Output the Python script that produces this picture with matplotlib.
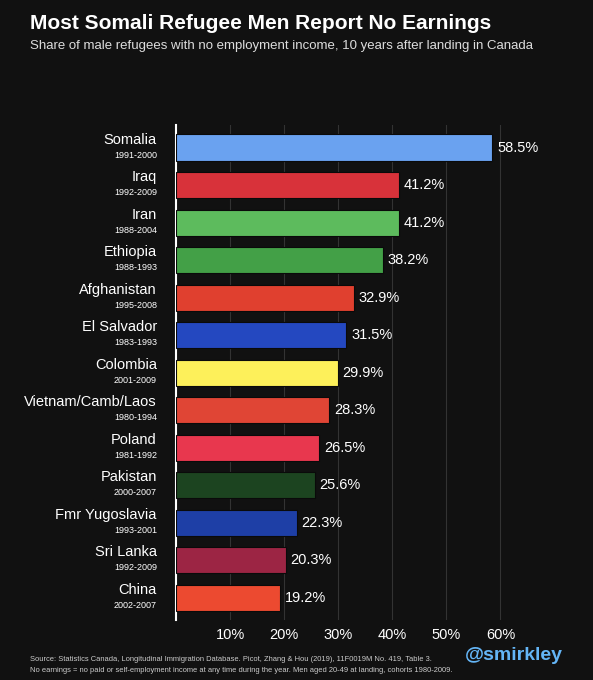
import matplotlib.pyplot as plt

plt.rcParams['font.family'] = ['Liberation Sans', 'DejaVu Sans']

countries = ["Somalia", "Iraq", "Iran", "Ethiopia", "Afghanistan", "El Salvador", "Colombia",
             "Vietnam/Camb/Laos", "Poland", "Pakistan", "Fmr Yugoslavia", "Sri Lanka", "China"]
cohorts = ["1991-2000", "1992-2009", "1988-2004", "1988-1993", "1995-2008", "1983-1993", "2001-2009",
           "1980-1994", "1981-1992", "2000-2007", "1993-2001", "1992-2009", "2002-2007"]
values = [58.5, 41.2, 41.2, 38.2, 32.9, 31.5, 29.9, 28.3, 26.5, 25.6, 22.3, 20.3, 19.2]
colors = ["#6aa2f0", "#d8323a", "#5dbb5d", "#43a047", "#e0402f", "#2448c0", "#fdf05a",
          "#e04535", "#e8374e", "#1c4420", "#1e3fa6", "#9c2544", "#ec4a30"]

BG = "#111111"
fig = plt.figure(figsize=(5.93, 6.8), dpi=100, facecolor=BG)
ax = fig.add_axes([0.297, 0.088, 0.65, 0.728], facecolor=BG)

y = list(range(len(values)))
ax.barh(y, values, height=0.7, color=colors, edgecolor="#0a0a0a", linewidth=0.8, zorder=3)
for yi, v in zip(y, values):
    ax.text(v + 0.9, yi, f"{v}%", va="center", ha="left", color="white", fontsize=10.5)
ax.set_ylim(len(values) - 0.4, -0.6)
ax.set_xlim(0, 71.3)
ax.set_xticks([10, 20, 30, 40, 50, 60])
ax.set_xticklabels([f"{t}%" for t in [10, 20, 30, 40, 50, 60]], color="white", fontsize=10.5)
ax.tick_params(axis="x", length=0, pad=6)
ax.set_yticks([])
ax.grid(axis="x", color="#333333", linewidth=0.8, zorder=0)
for s in ["top", "right", "bottom"]:
    ax.spines[s].set_visible(False)
ax.spines["left"].set_color("white")
ax.spines["left"].set_linewidth(1.5)

for yi, c, co in zip(y, countries, cohorts):
    ax.text(-0.05, yi - 0.02, c, transform=ax.get_yaxis_transform(), ha="right", va="bottom",
            color="white", fontsize=10.5)
    ax.text(-0.05, yi + 0.08, co, transform=ax.get_yaxis_transform(), ha="right", va="top",
            color="white", fontsize=6.5)

fig.text(0.05, 0.966, "Most Somali Refugee Men Report No Earnings", color="white",
         fontsize=15, fontweight="bold", va="center")
fig.text(0.05, 0.932, "Share of male refugees with no employment income, 10 years after landing in Canada",
         color="#dddddd", fontsize=9.5, va="center")
fig.text(0.05, 0.03, "Source: Statistics Canada, Longitudinal Immigration Database. Picot, Zhang & Hou (2019), 11F0019M No. 419, Table 3.",
         color="#cccccc", fontsize=5.4, va="center")
fig.text(0.05, 0.014, "No earnings = no paid or self-employment income at any time during the year. Men aged 20-49 at landing, cohorts 1980-2009.",
         color="#cccccc", fontsize=5.4, va="center")
fig.text(0.95, 0.036, "@smirkley", color="#64b5f6", fontsize=14, fontweight="bold", ha="right", va="center")

fig.savefig("out.png", facecolor=BG)
